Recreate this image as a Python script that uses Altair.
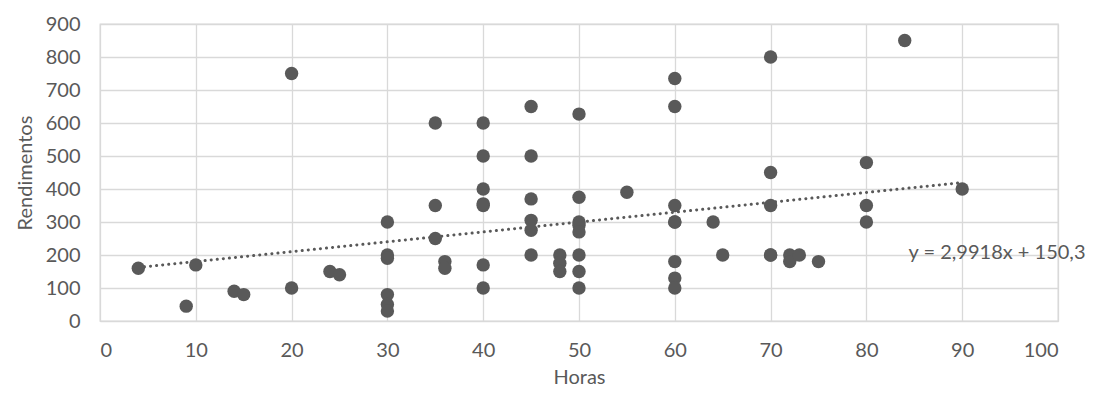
import altair as alt
import pandas as pd

horas = [4, 10, 9, 14, 15, 20, 20, 24, 25,
         30, 30, 30, 30, 30, 30,
         35, 35, 35, 36, 36,
         40, 40, 40, 40, 40, 40, 40,
         45, 45, 45, 45, 45, 45,
         48, 48, 48,
         50, 50, 50, 50, 50, 50, 50, 50,
         55,
         60, 60, 60, 60, 60, 60, 60, 60,
         64, 65,
         70, 70, 70, 70, 70,
         72, 72, 73, 75,
         80, 80, 80,
         84, 90]
rend = [160, 170, 45, 90, 80, 750, 100, 150, 140,
        300, 200, 190, 80, 50, 30,
        600, 350, 250, 180, 160,
        600, 500, 400, 350, 355, 170, 100,
        650, 500, 370, 305, 275, 200,
        200, 175, 150,
        627, 375, 300, 290, 270, 200, 150, 100,
        390,
        735, 650, 350, 300, 300, 180, 130, 100,
        300, 200,
        800, 450, 350, 200, 200,
        200, 180, 200, 180,
        480, 350, 300,
        850, 400]

slope = 2.9918
intercept = 150.3
trend_x = [min(horas), max(horas)]
eq_label = "y = 2,9918x + 150,3"

df = pd.DataFrame({"Horas": horas, "Rendimentos": rend})
trend = pd.DataFrame({"Horas": trend_x,
                      "Rendimentos": [slope * v + intercept for v in trend_x]})
lab = pd.DataFrame({"Horas": [84.4], "Rendimentos": [205], "t": [eq_label]})

FONT = "Lato, Noto Sans, sans-serif"
GREY = "#595959"

xs = alt.Scale(domain=[0, 100], nice=False)
ys = alt.Scale(domain=[0, 900], nice=False)

xax = alt.Axis(values=list(range(0, 101, 10)), title="Horas", grid=True,
               ticks=False, labelPadding=19, labelFontSize=20,
               titleFontSize=20, labelOverlap=False,
               titleY=62, titleBaseline="alphabetic")
yax = alt.Axis(values=list(range(0, 901, 100)), title="Rendimentos", grid=True,
               ticks=False, labelPadding=20, titlePadding=10, labelFontSize=20,
               titleFontSize=20, labelOverlap=False)

pts = alt.Chart(df).mark_circle(size=180, opacity=1, color=GREY).encode(
    x=alt.X("Horas:Q", scale=xs, axis=xax),
    y=alt.Y("Rendimentos:Q", scale=ys, axis=yax),
)

line = alt.Chart(trend).mark_line(color=GREY, strokeWidth=3, strokeDash=[0.1, 6],
                                  strokeCap="round").encode(
    x=alt.X("Horas:Q", scale=xs, axis=xax),
    y=alt.Y("Rendimentos:Q", scale=ys, axis=yax),
)

txt = alt.Chart(lab).mark_text(align="left", baseline="middle", fontSize=20,
                               font=FONT, color=GREY).encode(
    x=alt.X("Horas:Q", scale=xs, axis=xax),
    y=alt.Y("Rendimentos:Q", scale=ys, axis=yax),
    text="t:N",
)

chart = alt.layer(line, pts, txt).properties(
    width=958, height=297,
    autosize="none",
    padding={"left": 92, "top": 16, "right": 37, "bottom": 70},
).configure_axis(
    gridColor="#d9d9d9", domainColor="#d9d9d9", labelColor=GREY, titleColor=GREY,
    labelFont=FONT, titleFont=FONT, titleFontWeight="normal", gridWidth=1.3,
).configure_view(stroke="#d9d9d9", strokeWidth=1.3)

chart.save("out.html", embed_options={"renderer": "svg", "actions": False})
